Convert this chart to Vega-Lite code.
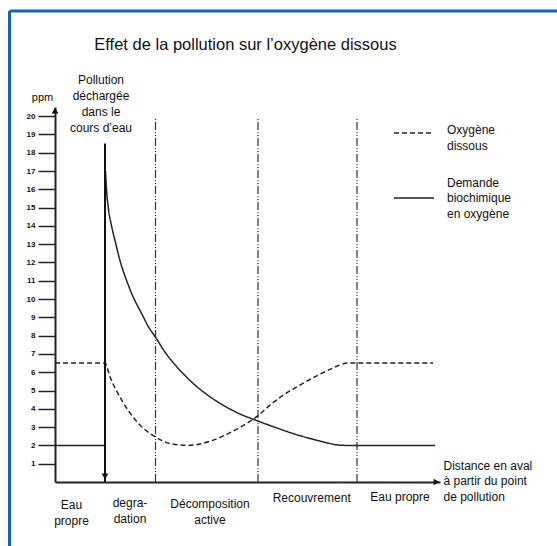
{
  "$schema": "https://vega.github.io/schema/vega-lite/v6.json",
  "autosize": "none",
  "width": 385,
  "height": 375,
  "padding": {"left": 55, "top": 107, "right": 117, "bottom": 64},
  "background": "white",
  "title": {"text": "Effet de la pollution sur l’oxygène dissous", "font": "Liberation Sans", "fontSize": 16.5, "fontWeight": "normal", "color": "#111", "anchor": "middle", "frame": "group", "offset": 0, "dx": -2, "dy": 44.5},
  "config": {
    "view": {"stroke": null},
    "font": "Liberation Sans",
    "text": {"font": "Liberation Sans"}
  },
  "datasets": {
    "courbes": [
      {"serie": "Oxygène dissous", "troncon": "a", "distance": 0, "ppm": 6.5},
      {"serie": "Oxygène dissous", "troncon": "a", "distance": 50, "ppm": 6.5},
      {"serie": "Oxygène dissous", "troncon": "a", "distance": 55, "ppm": 5.75},
      {"serie": "Oxygène dissous", "troncon": "a", "distance": 66.7, "ppm": 4.48},
      {"serie": "Oxygène dissous", "troncon": "a", "distance": 83.3, "ppm": 3.21},
      {"serie": "Oxygène dissous", "troncon": "a", "distance": 100, "ppm": 2.48},
      {"serie": "Oxygène dissous", "troncon": "a", "distance": 116.7, "ppm": 2.08},
      {"serie": "Oxygène dissous", "troncon": "a", "distance": 133.3, "ppm": 2.0},
      {"serie": "Oxygène dissous", "troncon": "a", "distance": 153.3, "ppm": 2.2},
      {"serie": "Oxygène dissous", "troncon": "a", "distance": 180, "ppm": 2.84},
      {"serie": "Oxygène dissous", "troncon": "a", "distance": 201.7, "ppm": 3.57},
      {"serie": "Oxygène dissous", "troncon": "a", "distance": 215, "ppm": 4.2},
      {"serie": "Oxygène dissous", "troncon": "a", "distance": 228.3, "ppm": 4.75},
      {"serie": "Oxygène dissous", "troncon": "a", "distance": 245, "ppm": 5.3},
      {"serie": "Oxygène dissous", "troncon": "a", "distance": 261.7, "ppm": 5.8},
      {"serie": "Oxygène dissous", "troncon": "a", "distance": 276.7, "ppm": 6.2},
      {"serie": "Oxygène dissous", "troncon": "a", "distance": 285, "ppm": 6.4},
      {"serie": "Oxygène dissous", "troncon": "a", "distance": 293, "ppm": 6.5},
      {"serie": "Oxygène dissous", "troncon": "a", "distance": 378, "ppm": 6.5},
      {"serie": "Demande biochimique en oxygène", "troncon": "a", "distance": 0, "ppm": 2},
      {"serie": "Demande biochimique en oxygène", "troncon": "a", "distance": 50, "ppm": 2},
      {"serie": "Demande biochimique en oxygène", "troncon": "b", "distance": 50.5, "ppm": 17},
      {"serie": "Demande biochimique en oxygène", "troncon": "b", "distance": 51.5, "ppm": 16},
      {"serie": "Demande biochimique en oxygène", "troncon": "b", "distance": 53.3, "ppm": 15.0},
      {"serie": "Demande biochimique en oxygène", "troncon": "b", "distance": 56.7, "ppm": 13.96},
      {"serie": "Demande biochimique en oxygène", "troncon": "b", "distance": 60, "ppm": 13.2},
      {"serie": "Demande biochimique en oxygène", "troncon": "b", "distance": 65, "ppm": 12.1},
      {"serie": "Demande biochimique en oxygène", "troncon": "b", "distance": 71.7, "ppm": 11.0},
      {"serie": "Demande biochimique en oxygène", "troncon": "b", "distance": 78.3, "ppm": 10.1},
      {"serie": "Demande biochimique en oxygène", "troncon": "b", "distance": 86.7, "ppm": 9.2},
      {"serie": "Demande biochimique en oxygène", "troncon": "b", "distance": 93.3, "ppm": 8.5},
      {"serie": "Demande biochimique en oxygène", "troncon": "b", "distance": 100.7, "ppm": 7.9},
      {"serie": "Demande biochimique en oxygène", "troncon": "b", "distance": 110, "ppm": 7.1},
      {"serie": "Demande biochimique en oxygène", "troncon": "b", "distance": 120, "ppm": 6.41},
      {"serie": "Demande biochimique en oxygène", "troncon": "b", "distance": 130, "ppm": 5.82},
      {"serie": "Demande biochimique en oxygène", "troncon": "b", "distance": 140, "ppm": 5.3},
      {"serie": "Demande biochimique en oxygène", "troncon": "b", "distance": 155, "ppm": 4.66},
      {"serie": "Demande biochimique en oxygène", "troncon": "b", "distance": 170, "ppm": 4.14},
      {"serie": "Demande biochimique en oxygène", "troncon": "b", "distance": 185, "ppm": 3.72},
      {"serie": "Demande biochimique en oxygène", "troncon": "b", "distance": 203, "ppm": 3.33},
      {"serie": "Demande biochimique en oxygène", "troncon": "b", "distance": 220, "ppm": 2.99},
      {"serie": "Demande biochimique en oxygène", "troncon": "b", "distance": 238, "ppm": 2.65},
      {"serie": "Demande biochimique en oxygène", "troncon": "b", "distance": 255, "ppm": 2.38},
      {"serie": "Demande biochimique en oxygène", "troncon": "b", "distance": 270, "ppm": 2.17},
      {"serie": "Demande biochimique en oxygène", "troncon": "b", "distance": 282, "ppm": 2.03},
      {"serie": "Demande biochimique en oxygène", "troncon": "b", "distance": 292, "ppm": 2},
      {"serie": "Demande biochimique en oxygène", "troncon": "b", "distance": 380, "ppm": 2}
    ],
    "limites": [{"distance": 100.5}, {"distance": 203}, {"distance": 302}],
    "zones": [
      {"zone": "Eau\npropre", "distance": 16.5, "ppm": -1.26},
      {"zone": "degra-\ndation", "distance": 75, "ppm": -1.15},
      {"zone": "Décomposition\nactive", "distance": 155, "ppm": -1.2},
      {"zone": "Recouvrement", "distance": 256.7, "ppm": -0.85},
      {"zone": "Eau propre", "distance": 345, "ppm": -0.82}
    ],
    "rejet": [{"distance": 50, "texte": "Pollution\ndéchargée\ndans le\ncours d’eau", "ppm": 21.98}],
    "fleches": [
      {"sens": "bas", "distance": 50, "ppm": 0.3},
      {"sens": "haut", "distance": 0, "ppm": 20.3},
      {"sens": "droite", "distance": 381.5, "ppm": 0}
    ]
  },
  "layer": [
    {
      "data": {"name": "limites"},
      "mark": {"type": "rule", "stroke": "#333", "strokeWidth": 1.2, "strokeDash": [8, 2, 1, 2, 1, 2]},
      "encoding": {
        "x": {"field": "distance", "type": "quantitative", "scale": {"domain": [0, 385], "nice": false, "zero": false}, "axis": {"title": ["Distance en aval", "à partir du point", "de pollution"], "titleAngle": 0, "titleAlign": "left", "titleBaseline": "top", "titleX": 388, "titleY": -22, "titleFontSize": 12, "titleFontWeight": "normal", "titleLineHeight": 15.5, "titleColor": "#111", "labels": false, "ticks": false, "grid": false, "domainWidth": 2, "domainColor": "#222"}},
        "y": {"datum": 0, "type": "quantitative", "scale": {"domain": [0, 20.5], "nice": false, "zero": false}, "axis": {"title": "ppm", "titleAngle": 0, "titleAlign": "center", "titleBaseline": "middle", "titleX": -13, "titleY": -10, "titleFontSize": 11, "titleFontWeight": "normal", "titleColor": "#111", "values": [1,2,3,4,5,6,7,8,9,10,11,12,13,14,15,16,17,18,19,20], "tickCount": 30, "format": "d", "labelOverlap": false, "tickSize": 17, "tickWidth": 1.5, "tickColor": "#222", "labelFontSize": 8, "labelFontWeight": "bold", "labelPadding": 3, "labelColor": "#111", "grid": false, "domainWidth": 2, "domainColor": "#222"}},
        "y2": {"datum": 19.95}
      }
    },
    {
      "data": {"name": "courbes"},
      "mark": {"type": "line", "stroke": "#222", "strokeWidth": 1.5, "interpolate": "monotone"},
      "encoding": {
        "x": {"field": "distance", "type": "quantitative"},
        "y": {"field": "ppm", "type": "quantitative"},
        "detail": {"field": "troncon"},
        "strokeDash": {"field": "serie", "type": "nominal", "scale": {"domain": ["Oxygène dissous", "Demande biochimique en oxygène"], "range": [[5, 3], [1, 0]]}, "legend": {"orient": "none", "legendX": 338, "legendY": 5, "title": null, "symbolType": "stroke", "symbolSize": 1600, "symbolStrokeWidth": 1.5, "symbolStrokeColor": "#222", "labelFontSize": 12, "labelColor": "#111", "labelOffset": 12, "labelLimit": 200, "rowPadding": 24, "labelExpr": "datum.label == 'Oxygène dissous' ? ['Oxygène', 'dissous'] : ['Demande', 'biochimique', 'en oxygène']", "encode": {"labels": {"update": {"lineHeight": {"value": 15.5}, "dy": {"signal": "datum.value == 'Oxygène dissous' ? -3 : -15.5"}}}}}}
      }
    },
    {
      "data": {"name": "rejet"},
      "mark": {"type": "rule", "stroke": "#111", "strokeWidth": 2},
      "encoding": {
        "x": {"field": "distance", "type": "quantitative"},
        "y": {"datum": 0},
        "y2": {"datum": 18.5}
      }
    },
    {
      "data": {"name": "rejet"},
      "mark": {"type": "text", "fontSize": 12, "color": "#111", "align": "center", "baseline": "middle", "lineBreak": "\n", "lineHeight": 16, "dx": -4},
      "encoding": {
        "x": {"field": "distance", "type": "quantitative"},
        "y": {"field": "ppm", "type": "quantitative"},
        "text": {"field": "texte"}
      }
    },
    {
      "data": {"name": "fleches"},
      "mark": {"type": "point", "filled": true, "color": "#111", "size": 45, "opacity": 1},
      "encoding": {
        "x": {"field": "distance", "type": "quantitative"},
        "y": {"field": "ppm", "type": "quantitative"},
        "shape": {"field": "sens", "type": "nominal", "scale": {"domain": ["bas", "haut", "droite"], "range": ["triangle-down", "triangle-up", "triangle-right"]}, "legend": null}
      }
    },
    {
      "data": {"name": "zones"},
      "mark": {"type": "text", "fontSize": 12, "color": "#111", "align": "center", "baseline": "middle", "lineBreak": "\n", "lineHeight": 16},
      "encoding": {
        "x": {"field": "distance", "type": "quantitative"},
        "y": {"field": "ppm", "type": "quantitative"},
        "text": {"field": "zone"}
      }
    },
    {
      "data": {"values": [{"cadre": "gauche"}]},
      "mark": {"type": "rule", "stroke": "#1565b0", "strokeWidth": 3},
      "encoding": {"x": {"datum": -45.5}, "y": {"datum": -4}, "y2": {"datum": 25.75}}
    },
    {
      "data": {"values": [{"cadre": "haut"}]},
      "mark": {"type": "rule", "stroke": "#1565b0", "strokeWidth": 3},
      "encoding": {"x": {"datum": -45.5}, "x2": {"datum": 510}, "y": {"datum": 25.75}}
    }
  ]
}
